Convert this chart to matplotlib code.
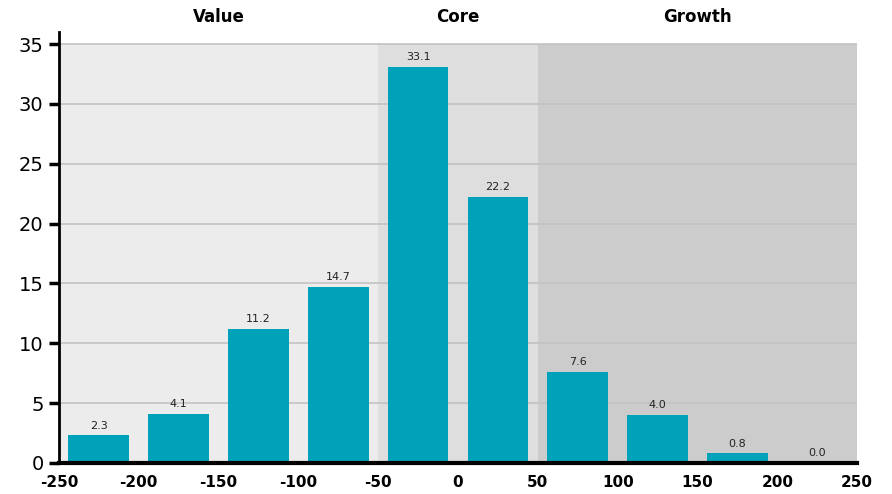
import matplotlib
matplotlib.use('Agg')
import matplotlib.pyplot as plt

plt.rcParams['font.family'] = 'DejaVu Sans'

# данные
centers = [-225, -175, -125, -75, -25, 25, 75, 125, 175, 225]
values = [2.3, 4.1, 11.2, 14.7, 33.1, 22.2, 7.6, 4.0, 0.8, 0.0]
styles = ['Value', 'Core', 'Growth']
style_bounds = [(-250, -50), (-50, 50), (50, 250)]
style_colors = ['#ececec', '#dedede', '#cccccc']
x_ticks = [-250, -200, -150, -100, -50, 0, 50, 100, 150, 200, 250]
y_ticks = [0, 5, 10, 15, 20, 25, 30, 35]

fig = plt.figure(figsize=(8.92, 4.94), dpi=100)
ax = fig.add_axes([0.066, 0.063, 0.895, 0.872])

# фоновые зоны стилей
for (lo, hi), col, name in zip(style_bounds, style_colors, styles):
    ax.fill_between([lo, hi], 0, 35, color=col, zorder=0, linewidth=0)
    ax.text((lo + hi) / 2, 1.035, name, transform=ax.get_xaxis_transform(),
            ha='center', va='center', fontsize=12, fontweight='bold')

for y in y_ticks[1:]:
    ax.axhline(y, color='#c2c2c2', linewidth=1.2, zorder=1)

bars = ax.bar(centers, values, width=38, color='#00a2ba', zorder=2)
for x, v in zip(centers, values):
    ax.text(x, v + 0.4, f'{v:.1f}', ha='center', va='bottom', fontsize=8, color='#222222')

ax.set_xlim(-250, 250)
ax.set_ylim(0, 36)
ax.set_xticks(x_ticks)
ax.set_xticklabels([str(t) for t in x_ticks], fontweight='bold', fontsize=11)
ax.set_yticks(y_ticks)
ax.tick_params(axis='y', labelsize=14, length=7, width=2.5, direction='out', pad=4)
ax.tick_params(axis='x', length=0, pad=9)

for s in ['top', 'right']:
    ax.spines[s].set_visible(False)
ax.spines['left'].set_linewidth(2)
ax.spines['bottom'].set_linewidth(3)
ax.set_facecolor('white')

fig.savefig('out.png', dpi=100)
